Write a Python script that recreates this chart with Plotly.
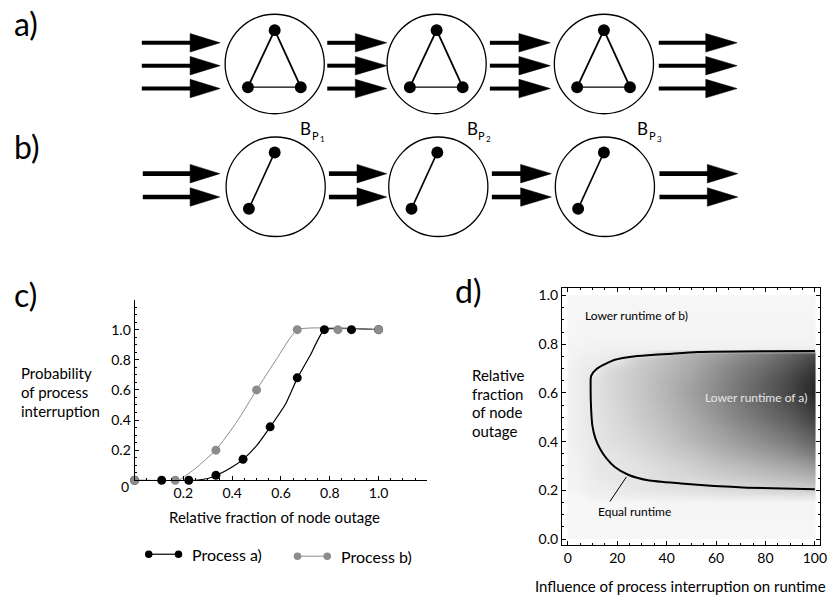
import plotly.graph_objects as go

W, H = 838, 601
FONT = "Lato"

# ---------------- Panel c data ----------------
xa = [0, 1/9, 2/9, 3/9, 4/9, 5/9, 6/9, 7/9, 8/9, 1.0]
ya = [0, 0, 0, 0.033, 0.14, 0.355, 0.68, 1.0, 1.0, 1.0]
xb = [0, 1/6, 2/6, 3/6, 4/6, 5/6, 1.0]
yb = [0, 0, 0.2, 0.6, 1.0, 1.0, 1.0]
# fitted curves
fa_x = [0, 0.25, 0.3, 0.336, 0.4, 0.444, 0.5, 0.556, 0.62, 0.667, 0.72, 0.778, 1.0]
fa_y = [0, 0, 0.012, 0.033, 0.088, 0.139, 0.23, 0.355, 0.51, 0.678, 0.83, 1.0, 1.0]
fb_x = [0, 0.18, 0.25, 0.333, 0.42, 0.5, 0.58, 0.667, 1.0]
fb_y = [0, 0, 0.08, 0.2, 0.39, 0.6, 0.8, 1.0, 1.0]
c_xticks = [0.2, 0.4, 0.6, 0.8, 1.0]
c_xticktext = ["0.2", "0.4", "0.6", "0.8", "1.0"]
c_yticks = [0.2, 0.4, 0.6, 0.8, 1.0]
c_yticktext = ["0.2", "0.4", "0.6", "0.8", "1.0"]

# ---------------- Panel d data ----------------
hx = [0, 5, 8, 11, 15, 20, 30, 40, 50, 60, 70, 80, 90, 100]
hy = [0, 0.15, 0.17, 0.19, 0.21, 0.23, 0.26, 0.30, 0.35, 0.40, 0.50, 0.60,
      0.65, 0.70, 0.74, 0.76, 0.78, 0.80, 0.85, 1.0]
hz = [
    [0.00, 0.00, 0.00, 0.00, 0.00, 0.00, 0.00, 0.00, 0.00, 0.00, 0.00, 0.00, 0.00, 0.00],
    [0.00, 0.00, 0.00, 0.00, 0.00, 0.00, 0.00, 0.01, 0.01, 0.01, 0.01, 0.01, 0.01, 0.01],
    [0.00, 0.00, 0.01, 0.02, 0.02, 0.02, 0.03, 0.03, 0.03, 0.04, 0.04, 0.04, 0.05, 0.05],
    [0.00, 0.01, 0.02, 0.03, 0.03, 0.04, 0.05, 0.06, 0.07, 0.08, 0.09, 0.10, 0.11, 0.12],
    [0.01, 0.02, 0.03, 0.04, 0.04, 0.05, 0.07, 0.08, 0.09, 0.11, 0.12, 0.14, 0.16, 0.18],
    [0.01, 0.02, 0.03, 0.04, 0.05, 0.06, 0.07, 0.09, 0.10, 0.12, 0.14, 0.17, 0.19, 0.23],
    [0.01, 0.02, 0.04, 0.05, 0.06, 0.07, 0.08, 0.11, 0.13, 0.16, 0.19, 0.22, 0.25, 0.29],
    [0.02, 0.03, 0.04, 0.06, 0.07, 0.07, 0.09, 0.12, 0.16, 0.20, 0.24, 0.28, 0.32, 0.38],
    [0.02, 0.03, 0.05, 0.06, 0.07, 0.08, 0.11, 0.16, 0.20, 0.26, 0.31, 0.36, 0.42, 0.49],
    [0.02, 0.04, 0.05, 0.06, 0.08, 0.10, 0.14, 0.19, 0.25, 0.31, 0.37, 0.43, 0.50, 0.59],
    [0.02, 0.04, 0.06, 0.07, 0.10, 0.12, 0.18, 0.24, 0.31, 0.39, 0.47, 0.55, 0.63, 0.74],
    [0.02, 0.04, 0.06, 0.08, 0.11, 0.14, 0.20, 0.27, 0.35, 0.44, 0.53, 0.62, 0.72, 0.84],
    [0.02, 0.04, 0.06, 0.08, 0.11, 0.14, 0.20, 0.27, 0.34, 0.43, 0.52, 0.61, 0.71, 0.83],
    [0.02, 0.04, 0.05, 0.05, 0.10, 0.13, 0.19, 0.25, 0.32, 0.41, 0.49, 0.57, 0.67, 0.78],
    [0.01, 0.03, 0.04, 0.04, 0.05, 0.06, 0.17, 0.23, 0.30, 0.37, 0.45, 0.53, 0.62, 0.72],
    [0.01, 0.02, 0.03, 0.03, 0.04, 0.05, 0.05, 0.20, 0.28, 0.35, 0.43, 0.50, 0.59, 0.68],
    [0.01, 0.02, 0.02, 0.02, 0.03, 0.03, 0.03, 0.03, 0.03, 0.03, 0.03, 0.04, 0.04, 0.04],
    [0.01, 0.01, 0.02, 0.02, 0.02, 0.02, 0.02, 0.02, 0.02, 0.02, 0.02, 0.02, 0.02, 0.02],
    [0.00, 0.01, 0.01, 0.01, 0.01, 0.01, 0.01, 0.01, 0.01, 0.01, 0.01, 0.01, 0.01, 0.01],
    [0.00, 0.00, 0.00, 0.00, 0.00, 0.00, 0.00, 0.00, 0.00, 0.00, 0.00, 0.00, 0.00, 0.00],
]
cont_x = [100, 52.5, 40.4, 32.4, 25.7, 19, 15, 11.6, 9.4, 9.2, 9.4, 9.9, 11.2, 13,
          15.7, 19, 24.4, 32.4, 45.8, 59.2, 72.6, 100]
cont_y = [0.772, 0.768, 0.760, 0.755, 0.749, 0.736, 0.718, 0.698, 0.670, 0.616, 0.534,
          0.466, 0.411, 0.371, 0.33, 0.296, 0.264, 0.241, 0.228, 0.218, 0.211, 0.204]
pointer_x = [17, 23.7]
pointer_y = [0.154, 0.255]
d_xticks = [0, 20, 40, 60, 80, 100]
d_xticktext = ["0", "20", "40", "60", "80", "100"]
d_yticks = [0, 0.2, 0.4, 0.6, 0.8, 1.0]
d_yticktext = ["0.0", "0.2", "0.4", "0.6", "0.8", "1.0"]

# ---------------- Diagram geometry (pixels) ----------------
circ_a_cx = [277, 440.3, 609]
circ_b_cx = [278, 442, 610]
row_cy = [63.3, 186.7]
circ_r = 50
tri_nodes = [(0, -34), (-27, 23.3), (26.3, 23.3)]
tri_edges = [(0, 1), (1, 2), (2, 0)]
pair_nodes = [(-1, -34.5), (-27, 22)]
arrow_rows_y = [[42, 65, 88], [173.5, 197]]
arrow_groups_a = [(143, 191.7, 222), (330, 358.3, 390), (494, 523.3, 555), (664.3, 711.7, 743.3)]
arrow_groups_b = [(144, 191.7, 221.7), (331.7, 360, 390), (496, 525, 556), (665, 713.3, 744)]
bp_labels = [("1", 301.7), ("2", 470), ("3", 641.7)]


def PX(px):
    return px / W


def PY(py):
    return 1 - py / H


shapes = []


def circle(cx, cy, r, fill=None, lw=1.3, color="black"):
    shapes.append(dict(type="circle", xref="paper", yref="paper",
                       x0=PX(cx - r), x1=PX(cx + r), y0=PY(cy + r), y1=PY(cy - r),
                       line=dict(color=color, width=lw if fill is None else 0),
                       fillcolor=fill if fill else "rgba(0,0,0,0)"))


def line(x0, y0, x1, y1, lw=1.5, color="black"):
    shapes.append(dict(type="line", xref="paper", yref="paper",
                       x0=PX(x0), y0=PY(y0), x1=PX(x1), y1=PY(y1),
                       line=dict(color=color, width=lw)))


def arrow(x0, xb_, xt, y, lw=4, hh=9.3):
    line(x0, y, xb_ + 2, y, lw)
    path = "M {} {} L {} {} L {} {} Z".format(PX(xb_), PY(y - hh), PX(xt), PY(y), PX(xb_), PY(y + hh))
    shapes.append(dict(type="path", xref="paper", yref="paper", path=path,
                       fillcolor="black", line=dict(color="black", width=0.5)))


# row a
for cx in circ_a_cx:
    cy = row_cy[0]
    circle(cx, cy, circ_r)
    for (i, j) in tri_edges:
        w = 1.3 if (i, j) == (1, 2) else 1.8
        line(cx + tri_nodes[i][0], cy + tri_nodes[i][1], cx + tri_nodes[j][0], cy + tri_nodes[j][1], w)
    for (dx, dy) in tri_nodes:
        circle(cx + dx, cy + dy, 6, fill="black")
# row b
for cx in circ_b_cx:
    cy = row_cy[1]
    circle(cx, cy, circ_r)
    line(cx + pair_nodes[0][0], cy + pair_nodes[0][1], cx + pair_nodes[1][0], cy + pair_nodes[1][1], 1.6)
    for (dx, dy) in pair_nodes:
        circle(cx + dx, cy + dy, 6, fill="black")
for g in arrow_groups_a:
    for y in arrow_rows_y[0]:
        arrow(g[0], g[1], g[2], y, lw=4)
for g in arrow_groups_b:
    for y in arrow_rows_y[1]:
        arrow(g[0], g[1], g[2], y, lw=4.6)

# legend samples for panel c
line(150, 556, 180, 556, 1.2, "black")
circle(150, 556, 3.8, fill="black")
circle(180, 556, 3.8, fill="black")
line(300, 558, 330, 558, 1.0, "#8c8c8c")
circle(300, 558, 3.8, fill="#8c8c8c")
circle(330, 558, 3.8, fill="#8c8c8c")

annotations = []


def ann(text, px, py, size, xanchor="left", color="black"):
    annotations.append(dict(text=text, x=PX(px), y=PY(py), xref="paper", yref="paper",
                            xanchor=xanchor, yanchor="middle", showarrow=False,
                            font=dict(family=FONT, size=size, color=color)))


ann("a)", 12, 23, 32)
ann("b)", 12, 146, 32)
ann("c)", 12, 295, 32)
ann("d)", 457, 291, 32)
for digit, bx in bp_labels:
    ann("B", bx - 1, 128, 17)
    ann("P", bx + 10.5, 135.5, 11)
    ann(digit, bx + 18.5, 138.5, 8)

ann("Probability", 19, 374, 15)
ann("of process", 19, 393, 15)
ann("interruption", 19, 412, 15)
ann("0", 126, 488, 14, xanchor="center")
ann("Relative fraction of node outage", 276.7, 519, 15, xanchor="center")
ann("Process a)", 192, 556, 16)
ann("Process b)", 342, 558, 16)

ann("Relative", 474, 376, 15)
ann("fraction", 474, 394.5, 15)
ann("of node", 474, 413, 15)
ann("outage", 474, 432, 15)
ann("Influence of process interruption on runtime", 686.5, 588, 15, xanchor="center")

fig = go.Figure()

# panel c traces
fig.add_trace(go.Scatter(x=fa_x, y=fa_y, mode="lines", line=dict(color="black", width=1.2, shape="spline", smoothing=0.4),
                         xaxis="x", yaxis="y", hoverinfo="skip"))
fig.add_trace(go.Scatter(x=fb_x, y=fb_y, mode="lines", line=dict(color="#8c8c8c", width=1.0, shape="spline", smoothing=0.4),
                         xaxis="x", yaxis="y", hoverinfo="skip"))
fig.add_trace(go.Scatter(x=xa, y=ya, mode="markers", marker=dict(color="black", size=9),
                         xaxis="x", yaxis="y", cliponaxis=False))
fig.add_trace(go.Scatter(x=xb, y=yb, mode="markers", marker=dict(color="#8c8c8c", size=9),
                         xaxis="x", yaxis="y", cliponaxis=False))

# panel d heatmap (edge columns/rows duplicated very close so the image stops at the grid edge)
hx_full = [hx[0], hx[0] + 0.3] + hx[1:-1] + [hx[-1] - 0.3, hx[-1]]
hy_full = [hy[0], hy[0] + 0.004] + hy[1:-1] + [hy[-1] - 0.004, hy[-1]]
hz_cols = [[r[0], r[0]] + r[1:-1] + [r[-1], r[-1]] for r in hz]
hz_full = [hz_cols[0], hz_cols[0]] + hz_cols[1:-1] + [hz_cols[-1], hz_cols[-1]]
fig.add_trace(go.Heatmap(x=hx_full, y=hy_full, z=hz_full, zmin=0, zmax=1, zsmooth="best",
                         colorscale=[[0, "#f7f7f7"], [1, "#000000"]], showscale=False,
                         xaxis="x2", yaxis="y2", hoverinfo="skip"))
fig.add_trace(go.Scatter(x=cont_x, y=cont_y, mode="lines",
                         line=dict(color="black", width=2, shape="spline", smoothing=0.6),
                         xaxis="x2", yaxis="y2", hoverinfo="skip"))
fig.add_trace(go.Scatter(x=pointer_x, y=pointer_y, mode="lines", line=dict(color="black", width=1),
                         xaxis="x2", yaxis="y2", hoverinfo="skip"))

# in-plot labels of panel d
annotations.append(dict(text="Lower runtime of b)", x=6.3, y=0.918, xref="x2", yref="y2", xanchor="left",
                        yanchor="middle", showarrow=False, font=dict(family=FONT, size=12, color="black")))
annotations.append(dict(text="Lower runtime of a)", x=54.9, y=0.582, xref="x2", yref="y2", xanchor="left",
                        yanchor="middle", showarrow=False, font=dict(family=FONT, size=12, color="#e6e6e6")))
annotations.append(dict(text="Equal runtime", x=27, y=0.113, xref="x2", yref="y2", xanchor="center",
                        yanchor="middle", showarrow=False, font=dict(family=FONT, size=12, color="black")))

tickfont = dict(family=FONT, size=14, color="black")
fig.update_layout(
    width=W, height=H, margin=dict(l=0, r=0, t=0, b=0),
    paper_bgcolor="white", plot_bgcolor="white", showlegend=False, hovermode=False,
    font=dict(family=FONT, color="black"),
    xaxis=dict(domain=[PX(135.7), PX(431)], range=[0, 1.2], showline=True, linecolor="black", linewidth=1,
               showgrid=False, zeroline=False, tickmode="array", tickvals=c_xticks, ticktext=c_xticktext,
               ticks="inside", ticklen=4, tickcolor="black", tickfont=tickfont,
               minor=dict(tickmode="linear", tick0=0, dtick=0.05, ticks="inside", ticklen=2, tickcolor="black"),
               anchor="y", fixedrange=True),
    yaxis=dict(domain=[PY(481.7), PY(300)], range=[0, 1.2], showline=True, linecolor="black", linewidth=1,
               showgrid=False, zeroline=False, tickmode="array", tickvals=c_yticks, ticktext=c_yticktext,
               ticks="inside", ticklen=4, tickcolor="black", tickfont=tickfont,
               minor=dict(tickmode="linear", tick0=0, dtick=0.05, ticks="inside", ticklen=2, tickcolor="black"),
               anchor="x", fixedrange=True),
    xaxis2=dict(domain=[PX(566.7), PX(827)], range=[-2.41, 102.13], showline=True, linecolor="black", linewidth=1,
                mirror="ticks", showgrid=False, zeroline=False, tickmode="array", tickvals=d_xticks,
                ticktext=d_xticktext, ticks="inside", ticklen=4, tickcolor="black", tickfont=tickfont,
                minor=dict(tickmode="linear", tick0=0, dtick=5, ticks="inside", ticklen=2, tickcolor="black"),
                anchor="y2", fixedrange=True),
    yaxis2=dict(domain=[PY(546.7), PY(288.3)], range=[-0.0245, 1.0315], showline=True, linecolor="black",
                linewidth=1, mirror="ticks", showgrid=False, zeroline=False, tickmode="array",
                tickvals=d_yticks, ticktext=d_yticktext, ticks="inside", ticklen=4, tickcolor="black",
                tickfont=tickfont,
                minor=dict(tickmode="linear", tick0=0, dtick=0.05, ticks="inside", ticklen=2, tickcolor="black"),
                anchor="x2", fixedrange=True),
    shapes=shapes,
    annotations=annotations,
)

fig.write_html("out.html", config={"displayModeBar": False},
               post_script="document.body.style.margin='0';document.body.style.overflow='hidden';")
